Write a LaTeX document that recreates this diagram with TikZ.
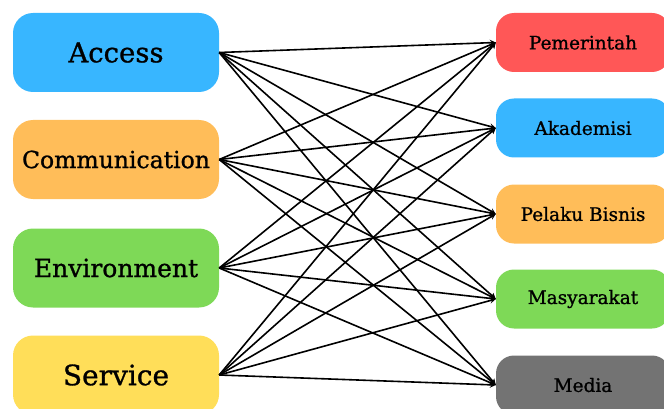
\documentclass[tikz,border=0pt]{standalone}
\usepackage{fontspec}
\setmainfont{DejaVu Serif}
\newfontfamily\boxfont{DejaVu Serif}[FakeBold=1]
\usepackage{xcolor}
\usepackage{tikz}
\usetikzlibrary{shapes,arrows,positioning}

\definecolor{cblue}{HTML}{38B6FF}
\definecolor{corange}{HTML}{FFBD59}
\definecolor{cgreen}{HTML}{7ED957}
\definecolor{cyellow}{HTML}{FFDE59}
\definecolor{cred}{HTML}{FF5757}
\definecolor{cgray}{HTML}{737373}

\newcommand{\fsz}[1]{\fontsize{#1}{#1}\selectfont}

\begin{document}
\begin{tikzpicture}[x=1pt, y=-1pt,
    aspect/.style={rectangle, rounded corners=20pt, minimum width=206pt,
        minimum height=79pt, inner sep=0pt, font=\boxfont\fsz{27.5}},
    actor/.style={rectangle, rounded corners=18pt, minimum width=174pt,
        minimum height=59pt, inner sep=0pt, font=\boxfont\fsz{18.5}}]
    \useasboundingbox (0,0) rectangle (664,409);
    \clip (0,0) rectangle (664,409);

    % Aspects on the left
    \node[aspect, fill=cblue] (access) at (116, 52.5) {Access};
    \node[aspect, fill=corange, font=\boxfont\fsz{23.5}] (comm) at (116, 159.5) {Communication};
    \node[aspect, fill=cgreen, font=\boxfont\fsz{25}] (env) at (116, 268) {Environment};
    \node[aspect, fill=cyellow, font=\boxfont\fsz{28}] (service) at (116, 375) {Service};

    % Actors on the right
    \node[actor, fill=cred] (pemerintah) at (583, 42.5) {Pemerintah};
    \node[actor, fill=cblue] (akademisi) at (583, 128) {Akademisi};
    \node[actor, fill=corange] (bisnis) at (583, 214) {Pelaku Bisnis};
    \node[actor, fill=cgreen] (masyarakat) at (583, 299) {Masyarakat};
    \node[actor, fill=cgray] (media) at (583, 385) {Media};

    % Every aspect links to every actor
    \foreach \a in {access, comm, env, service}
        \foreach \b in {pemerintah, akademisi, bisnis, masyarakat, media}
            \draw[-stealth, line width=1.6pt] (\a.east) -- (\b.west);
\end{tikzpicture}
\end{document}
